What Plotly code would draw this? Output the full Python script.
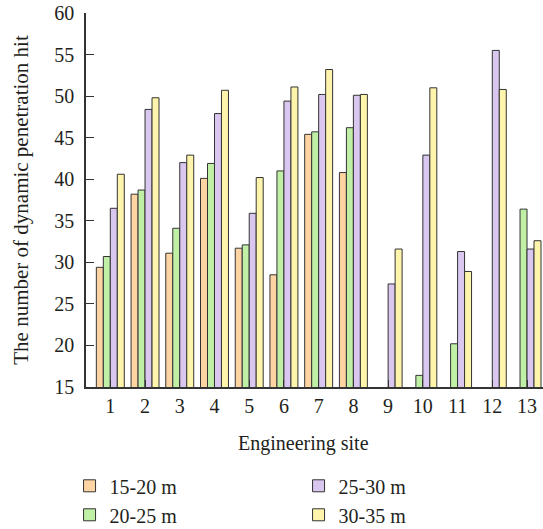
import plotly.graph_objects as go

sites = [str(i) for i in range(1, 14)]
d1520 = [29.4, 38.2, 31.1, 40.1, 31.7, 28.5, 45.4, 40.8, None, None, None, None, None]
d2025 = [30.7, 38.7, 34.1, 41.9, 32.1, 41.0, 45.7, 46.2, None, 16.4, 20.2, None, 36.4]
d2530 = [36.5, 48.4, 42.0, 47.9, 35.9, 49.4, 50.2, 50.1, 27.4, 42.9, 31.3, 55.5, 31.6]
d3035 = [40.6, 49.8, 42.9, 50.7, 40.2, 51.1, 53.2, 50.2, 31.6, 51.0, 28.9, 50.8, 32.6]

series = [
    ("15-20 m", d1520, "#FFD4A3", 1),
    ("20-25 m", d2025, "#BFF0A6", 3),
    ("25-30 m", d2530, "#D9C7EF", 2),
    ("30-35 m", d3035, "#FFF4AC", 4),
]

FONT = "Liberation Serif"
TXT = "#231F20"

fig = go.Figure()
for name, vals, col, rank in series:
    fig.add_trace(go.Bar(
        x=sites, y=vals, name=name, legendrank=rank,
        marker=dict(color=col, line=dict(color="#333333", width=1)),
    ))

fig.add_annotation(
    text="Engineering site", xref="paper", yref="paper",
    x=0.477, y=-0.15, xanchor="center", yanchor="middle", showarrow=False,
    font=dict(family=FONT, size=20, color=TXT),
)

fig.update_layout(
    width=543, height=529,
    margin=dict(l=86, r=0, t=13, b=142, autoexpand=False),
    paper_bgcolor="white", plot_bgcolor="white",
    barmode="group", bargap=0.195, bargroupgap=0,
    font=dict(family=FONT, size=20, color=TXT),
    showlegend=True,
    legend=dict(
        orientation="h", x=-0.036, xanchor="left", y=-0.212, yanchor="top",
        entrywidth=184, entrywidthmode="pixels",
        font=dict(family=FONT, size=20, color=TXT),
        traceorder="normal", tracegroupgap=0,
    ),
    xaxis=dict(
        type="category", range=[-0.7, 12.46],
        showline=True, linecolor="#333333", linewidth=1.5,
        ticks="inside", ticklen=7, tickcolor="#333333",
        showgrid=False, zeroline=False,
        tickfont=dict(family=FONT, size=20, color=TXT),
    ),
    yaxis=dict(
        range=[15, 60], dtick=5, tick0=15,
        showline=True, linecolor="#333333", linewidth=1.5,
        ticks="inside", ticklen=8, tickcolor="#333333",
        ticklabelstandoff=6,
        showgrid=False, zeroline=False,
        tickfont=dict(family=FONT, size=20, color=TXT),
        title=dict(text="The number of dynamic penetration hit", font=dict(family=FONT, size=21, color=TXT), standoff=20),
    ),
)

fig.write_html("out.html")
